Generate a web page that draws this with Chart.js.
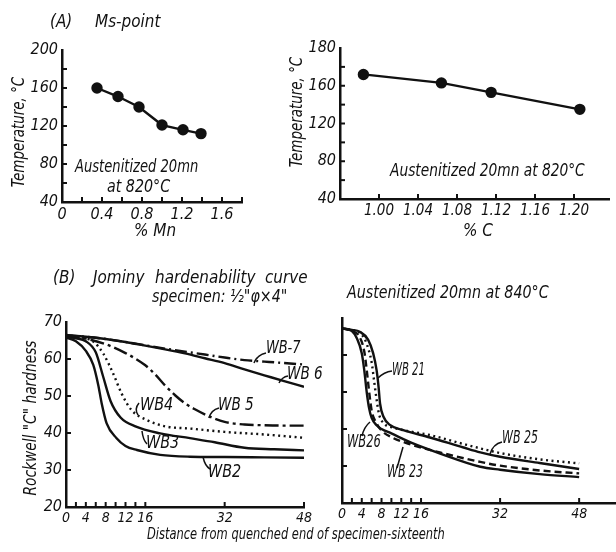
<!DOCTYPE html>
<html>
<head>
<meta charset="utf-8">
<script src="https://cdn.jsdelivr.net/npm/chart.js@4"></script>
<style>
  html,body{margin:0;padding:0;background:#fff;}
  #page{position:relative;width:616px;height:552px;overflow:hidden;background:#fff;}
  canvas{position:absolute;}
  .t{position:absolute;white-space:nowrap;color:#111;font-family:'DejaVu Sans Condensed','DejaVu Sans',sans-serif;font-style:italic;font-size:18px;line-height:18px;--sx:1;transform:scaleX(var(--sx));transform-origin:0 0;}
  .s{font-size:17px;line-height:17px;}
  .rot{transform:translate(-50%,-50%) rotate(-90deg) scaleX(var(--sx));transform-origin:50% 50%;}
  svg{position:absolute;left:0;top:0;}
</style>
</head>
<body>
<div id="page">
  <canvas id="cA1" style="left:0;top:30px" width="262" height="210"></canvas>
  <canvas id="cA2" style="left:290px;top:28px" width="326" height="210"></canvas>
  <canvas id="cB1" style="left:0;top:300px" width="316" height="235"></canvas>
  <canvas id="cB2" style="left:330px;top:296px" width="286" height="235"></canvas>

  <div class="t" style="left:50px;top:12px;--sx:0.94">(A)</div>
  <div class="t" style="left:95px;top:12px;--sx:0.94">Ms-point</div>
  <div class="t rot" style="left:18px;top:132px;--sx:0.83">Temperature, °C</div>
  <div class="t" style="left:134px;top:221px;--sx:0.94">% Mn</div>
  <div class="t" style="left:75px;top:157px;--sx:0.81">Austenitized 20mn</div>
  <div class="t" style="left:107px;top:177px;--sx:0.88">at 820°C</div>

  <div class="t rot" style="left:296px;top:112px;--sx:0.83">Temperature, °C</div>
  <div class="t" style="left:463px;top:221px;--sx:0.94">% C</div>
  <div class="t" style="left:390px;top:161px;--sx:0.85">Austenitized 20mn at 820°C</div>

  <div class="t" style="left:53px;top:268px;--sx:0.94">(B)</div>
  <div class="t" style="left:93px;top:268px;--sx:0.94">Jominy</div>
  <div class="t" style="left:155px;top:268px;--sx:0.94">hardenability</div>
  <div class="t" style="left:265px;top:268px;--sx:0.94">curve</div>
  <div class="t" style="left:152px;top:287px;--sx:0.88">specimen: ½"φ×4"</div>
  <div class="t" style="left:347px;top:283px;--sx:0.88">Austenitized 20mn at 840°C</div>
  <div class="t rot" style="left:30px;top:418px;--sx:0.85">Rockwell "C" hardness</div>
  <div class="t" style="left:147px;top:527px;font-size:15px;line-height:15px;--sx:0.85">Distance from quenched end of specimen-sixteenth</div>

  <div class="t s" style="left:266px;top:339px;--sx:0.85">WB-7</div>
  <div class="t s" style="left:287px;top:365px;--sx:0.89">WB 6</div>
  <div class="t s" style="left:218px;top:396px;--sx:0.89">WB 5</div>
  <div class="t s" style="left:140px;top:396px;--sx:0.94">WB4</div>
  <div class="t s" style="left:146px;top:434px;--sx:0.94">WB3</div>
  <div class="t s" style="left:208px;top:463px;--sx:0.94">WB2</div>
  <div class="t s" style="left:392px;top:361px;--sx:0.66">WB 21</div>
  <div class="t s" style="left:347px;top:433px;--sx:0.75">WB26</div>
  <div class="t s" style="left:387px;top:463px;--sx:0.72">WB 23</div>
  <div class="t s" style="left:502px;top:429px;--sx:0.72">WB 25</div>

  <svg width="616" height="552">
    <g fill="none" stroke="#111" stroke-width="1.5">
      <path d="M254,363 Q257,355 266,353"/>
      <path d="M279,383 Q282,377 288,376"/>
      <path d="M209,418 Q211,410 219,408"/>
      <path d="M139,403 Q134,409 138,415"/>
      <path d="M142,431 Q143,440 147,444"/>
      <path d="M203,457 Q205,466 210,469"/>
      <path d="M378,378 Q384,372 392,371"/>
      <path d="M362,436 Q364,427 370,422"/>
      <path d="M397,468 L403,447"/>
      <path d="M490,454 Q493,444 502,442"/>
    </g>
  </svg>
</div>
<script>
// ---------- Data ----------
// (A) Ms-point vs % Mn
const mnPct   = [0.35, 0.56, 0.77, 1.00, 1.21, 1.39];
const msMn    = [160, 151, 140, 121, 116, 112];
const mnTicks = [0, 0.4, 0.8, 1.2, 1.6];
const mnTickLabels = ['0', '0.4', '0.8', '1.2', '1.6'];
const tempTicksA1 = [40, 80, 120, 160, 200];
const tempLabelsA1 = ['40', '80', '120', '160', '200'];

// (A) Ms-point vs % C
const cPct   = [0.984, 1.064, 1.115, 1.206];
const msC    = [172, 163, 153, 135];
const cTicks = [1.00, 1.04, 1.08, 1.12, 1.16, 1.20];
const cTickLabels = ['1.00', '1.04', '1.08', '1.12', '1.16', '1.20'];
const tempTicksA2 = [40, 80, 120, 160, 200];
const tempLabelsA2 = ['40', '80', '120', '160', '180'];

// (B) Jominy curves, left panel
const wb6x  = [0, 4, 8, 12, 16, 20, 24, 28, 32, 36, 40, 44, 48];
const wb6y  = [66.4, 66, 65.4, 64.6, 63.6, 62.6, 61.5, 60.2, 58.9, 57.2, 55.6, 54, 52.5];
const wb7x  = [0, 4, 8, 12, 16, 20, 24, 28, 32, 36, 40, 44, 48];
const wb7y  = [66.4, 66, 65.4, 64.6, 63.7, 62.8, 62.0, 61.2, 60.4, 59.7, 59.3, 58.9, 58.5];
const wb5x  = [0, 4, 8, 12, 16, 18, 20, 22, 24, 26, 29, 32, 36, 40, 44, 48];
const wb5y  = [66.5, 65.5, 64, 61.6, 58.3, 55.8, 52.8, 50.2, 48, 46.4, 44.4, 43, 42.3, 42.1, 42, 42];
const wb4x  = [0, 3, 5.5, 7.5, 9.5, 11.2, 13.2, 16.3, 20, 25, 32, 40, 48];
const wb4y  = [66.5, 65.8, 64.7, 61.5, 56.1, 50.7, 46.2, 43.5, 41.8, 41.2, 40.3, 39.6, 38.7];
const wb3x  = [0, 2, 4, 6, 7.5, 9, 11, 14, 19, 25, 30, 36, 42, 48];
const wb3y  = [66, 65.6, 64.8, 61.8, 55.2, 48.6, 44.2, 41.8, 39.9, 38.6, 37.5, 36, 35.6, 35.3];
const wb2x  = [0, 2, 4, 5.5, 6.5, 7.2, 8.2, 10.2, 12, 14.3, 19, 25, 32, 40, 48];
const wb2y  = [65.8, 64.8, 62.2, 58.4, 53, 48, 42.6, 38.6, 36.5, 35.4, 34.1, 33.6, 33.5, 33.4, 33.3];

// (B) Jominy curves, right panel
const wb26x = [0, 2, 3, 4, 4.5, 5, 5.5, 6, 7, 8, 10, 14, 20, 28, 32, 40, 48];
const wb26y = [67.2, 66.5, 64.5, 60.5, 56, 50, 45.5, 43, 41, 40, 38.8, 36.3, 33.3, 29.8, 29, 27.8, 27];
const wb21x = [0, 2, 3.6, 5.3, 6.3, 7, 7.4, 7.7, 8.4, 9.7, 12.4, 17.8, 24.6, 28, 32, 40, 48];
const wb21y = [67.2, 66.8, 66.3, 64.1, 60.5, 55.9, 51.4, 46.9, 43.3, 41.1, 39.7, 37.7, 35, 33.7, 32.5, 30.8, 29.2];
const wb25x = [0, 2, 4, 5, 6, 6.5, 7, 7.5, 8.5, 10, 12, 18, 25, 32, 40, 48];
const wb25y = [67.2, 66.7, 65.5, 63, 58, 53, 48, 44, 41.5, 40.5, 39.8, 38.3, 35.8, 33.5, 31.8, 30.7];
const wb23x = [0, 2, 3.5, 4.5, 5, 5.5, 6, 7, 8, 10, 14, 20, 28, 32, 40, 48];
const wb23y = [67.2, 66.5, 65, 61, 56, 50, 45, 41.5, 39.6, 37.8, 35.8, 33.6, 31.1, 30.1, 28.8, 28];

const distTicks = [0, 4, 8, 12, 16, 32, 48];
const distTickLabels = ['0', '4', '8', '12', '16', '32', '48'];
const hrcTicks = [20, 30, 40, 50, 60, 70];
const hrcTickLabels = ['20', '30', '40', '50', '60', '70'];

// ---------- helpers ----------
const INK = '#111';
const FONT = "'DejaVu Sans Condensed','DejaVu Sans',sans-serif";
const pts = (xs, ys) => xs.map((x, i) => ({x, y: ys[i]}));

const innerTicks = {
  id: 'innerTicks',
  afterDraw(chart, args, o) {
    const {ctx, chartArea: a, scales} = chart;
    ctx.save();
    ctx.strokeStyle = INK;
    ctx.lineWidth = o.width || 2;
    (o.x || []).forEach(v => {
      const px = scales.x.getPixelForValue(v);
      ctx.beginPath(); ctx.moveTo(px, a.bottom); ctx.lineTo(px, a.bottom - o.len); ctx.stroke();
    });
    (o.y || []).forEach(v => {
      const py = scales.y.getPixelForValue(v);
      ctx.beginPath(); ctx.moveTo(a.left, py); ctx.lineTo(a.left + o.len, py); ctx.stroke();
    });
    ctx.restore();
  }
};
Chart.register(innerTicks);

function axis(o) {
  return {
    type: 'linear', min: o.min, max: o.max,
    afterFit(s) {
      if (o.w !== undefined) s.width = o.w;
      if (o.h !== undefined) s.height = o.h;
      s.paddingLeft = 0; s.paddingRight = 0; s.paddingTop = 0; s.paddingBottom = 0;
    },
    afterBuildTicks(s) { s.ticks = o.ticks.map(v => ({value: v})); },
    ticks: {
      display: o.labels !== null,
      autoSkip: false, maxRotation: 0, padding: o.pad || 3,
      color: INK,
      font: {family: FONT, size: o.size || 15, style: 'italic'},
      callback: (v, i) => (o.labels ? o.labels[i] : '')
    },
    grid: {drawOnChartArea: false, drawTicks: false},
    border: {display: true, color: INK, width: 2.5}
  };
}

function lineDs(xs, ys, dash, extra) {
  return Object.assign({
    data: pts(xs, ys), borderColor: INK, backgroundColor: INK,
    borderWidth: 2.4, borderDash: dash || [], pointRadius: 0,
    showLine: true, cubicInterpolationMode: 'monotone', fill: false
  }, extra || {});
}

function make(id, datasets, xs, ys, pad, ticksOpt) {
  return new Chart(document.getElementById(id), {
    type: 'scatter',
    data: {datasets},
    options: {
      responsive: false, animation: false, devicePixelRatio: 1,
      layout: {padding: pad},
      plugins: {legend: {display: false}, tooltip: {enabled: false}, innerTicks: ticksOpt},
      scales: {x: axis(xs), y: axis(ys)}
    }
  });
}

// (A) left
make('cA1',
  [lineDs(mnPct, msMn, [], {pointRadius: 4.5, cubicInterpolationMode: 'default', tension: 0})],
  {min: 0, max: 1.8, h: 38, ticks: mnTicks, labels: mnTickLabels, size: 16},
  {min: 40, max: 200, w: 62, ticks: tempTicksA1, labels: tempLabelsA1, pad: 4, size: 16},
  {top: 20, right: 20, left: 0, bottom: 0},
  {x: [0.2, 0.4, 0.6, 0.8, 1.0, 1.2, 1.4, 1.6, 1.8], y: [60, 80, 100, 120, 140, 160, 180], len: 5}
);

// (A) right
make('cA2',
  [lineDs(cPct, msC, [], {pointRadius: 4.5, cubicInterpolationMode: 'default', tension: 0})],
  {min: 0.96, max: 1.236, h: 39, ticks: cTicks, labels: cTickLabels, size: 15},
  {min: 40, max: 200, w: 50, ticks: tempTicksA2, labels: tempLabelsA2, pad: 4, size: 16},
  {top: 20, right: 0, left: 0, bottom: 0},
  {x: cTicks, y: [60, 80, 100, 120, 140, 160, 180], len: 5}
);

// (B) left
make('cB1',
  [
    lineDs(wb6x, wb6y),
    lineDs(wb7x, wb7y, [12, 4, 2, 4]),
    lineDs(wb5x, wb5y, [14, 4, 3, 4]),
    lineDs(wb4x, wb4y, [2, 3.5]),
    lineDs(wb3x, wb3y),
    lineDs(wb2x, wb2y)
  ],
  {min: 0, max: 48, h: 28, ticks: distTicks, labels: distTickLabels, size: 14},
  {min: 20, max: 70, w: 66, ticks: hrcTicks, labels: hrcTickLabels, pad: 4, size: 16},
  {top: 22, right: 12, left: 0, bottom: 0},
  {x: [2, 4, 6, 8, 10, 12, 14, 16, 32, 48], y: [30, 40, 50, 60], len: 5}
);

// (B) right
make('cB2',
  [
    lineDs(wb26x, wb26y),
    lineDs(wb21x, wb21y),
    lineDs(wb25x, wb25y, [2, 3.5]),
    lineDs(wb23x, wb23y, [7, 4])
  ],
  {min: 0, max: 55.46, h: 28, ticks: distTicks, labels: distTickLabels, size: 14},
  {min: 20, max: 70, w: 12, ticks: hrcTicks, labels: null},
  {top: 22, right: 0, left: 0, bottom: 0},
  {x: [2, 4, 6, 8, 10, 12, 14, 16, 32, 48], y: [30, 40, 50, 60], len: 5}
);
</script>
</body>
</html>
